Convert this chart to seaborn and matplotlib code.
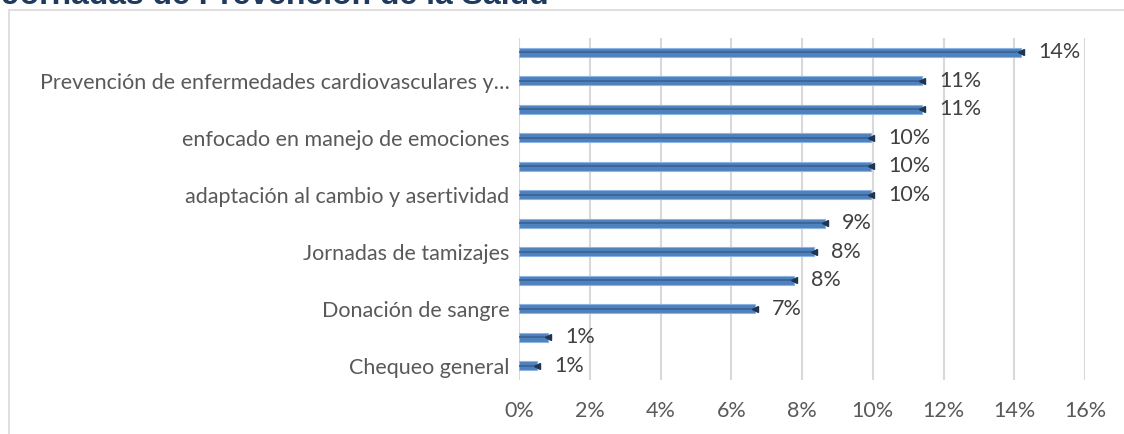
import matplotlib
matplotlib.use("Agg")
import matplotlib.pyplot as plt
import seaborn as sns
import pandas as pd
from matplotlib.patches import Rectangle
from matplotlib.ticker import PercentFormatter

# ---- data (top to bottom) ----
labels = ["", "Prevención de enfermedades cardiovasculares y…", "",
          "enfocado en manejo de emociones", "",
          "adaptación al cambio y asertividad", "",
          "Jornadas de tamizajes", "", "Donación de sangre", "",
          "Chequeo general"]
values = [0.142, 0.114, 0.114, 0.0995, 0.0995, 0.0995,
          0.0865, 0.0834, 0.0778, 0.0667, 0.0082, 0.0051]
value_labels = ["14%", "11%", "11%", "10%", "10%", "10%",
                "9%", "8%", "8%", "7%", "1%", "1%"]
xticks = [0, 0.02, 0.04, 0.06, 0.08, 0.10, 0.12, 0.14, 0.16]
title = "Jornadas de Prevención de la Salud"

df = pd.DataFrame({"key": [f"c{i}" for i in range(len(values))],
                   "value": values})

sns.set_theme(style="white")
plt.rcParams["font.family"] = ["Lato", "DejaVu Sans"]

W, H = 1124, 434
fig = plt.figure(figsize=(W / 100, H / 100), dpi=100)
fig.patch.set_facecolor("white")

# chart frame
fig.add_artist(Rectangle((9 / W, -0.05), 1.2, 1 - 10 / H + 0.05,
                         transform=fig.transFigure, fill=False,
                         edgecolor="#D9D9D9", linewidth=1.2))

ax = fig.add_axes([519 / W, 1 - 380 / H, (1085 - 519) / W, (380 - 38) / H])
sns.barplot(data=df, x="value", y="key", orient="h", ax=ax,
            color="#4F81BD", width=0.32, edgecolor="#8EB4E3", linewidth=0.8,
            saturation=1)

# darker centre line to hint at the 3D shading
for i, v in enumerate(values):
    ax.plot([0, v], [i, i], color="#3A6597", linewidth=1.3, solid_capstyle="butt", zorder=3)
    ax.plot([v], [i], marker="<", color="#1F3550", markersize=4.5, zorder=4)

ax.set_xlim(0, 0.16)
ax.set_ylim(len(values) - 0.5, -0.5)
ax.set_xticks(xticks)
ax.xaxis.set_major_formatter(PercentFormatter(1.0, decimals=0))
ax.set_yticks(range(len(labels)))
ax.set_yticklabels(labels)
ax.set_xlabel("")
ax.set_ylabel("")
ax.grid(axis="x", color="#D9D9D9", linewidth=1.5)
ax.set_axisbelow(True)
for s in ax.spines.values():
    s.set_visible(False)
ax.tick_params(axis="y", length=0, pad=7, labelsize=15.5, labelcolor="#595959")
ax.tick_params(axis="x", length=0, pad=15, labelsize=15.5, labelcolor="#595959")

for i, (v, t) in enumerate(zip(values, value_labels)):
    ax.annotate(t, (v, i), xytext=(17, 0), textcoords="offset pixels",
                va="center", ha="left", fontsize=15.5, color="#404040")

fig.text(2 / W, 1 - 4.5 / H, title, fontsize=23, fontweight="bold",
         color="#1F3A5F", ha="left", va="baseline",
         family=["Liberation Sans", "DejaVu Sans"])

fig.savefig("out.png", dpi=100, facecolor="white")
